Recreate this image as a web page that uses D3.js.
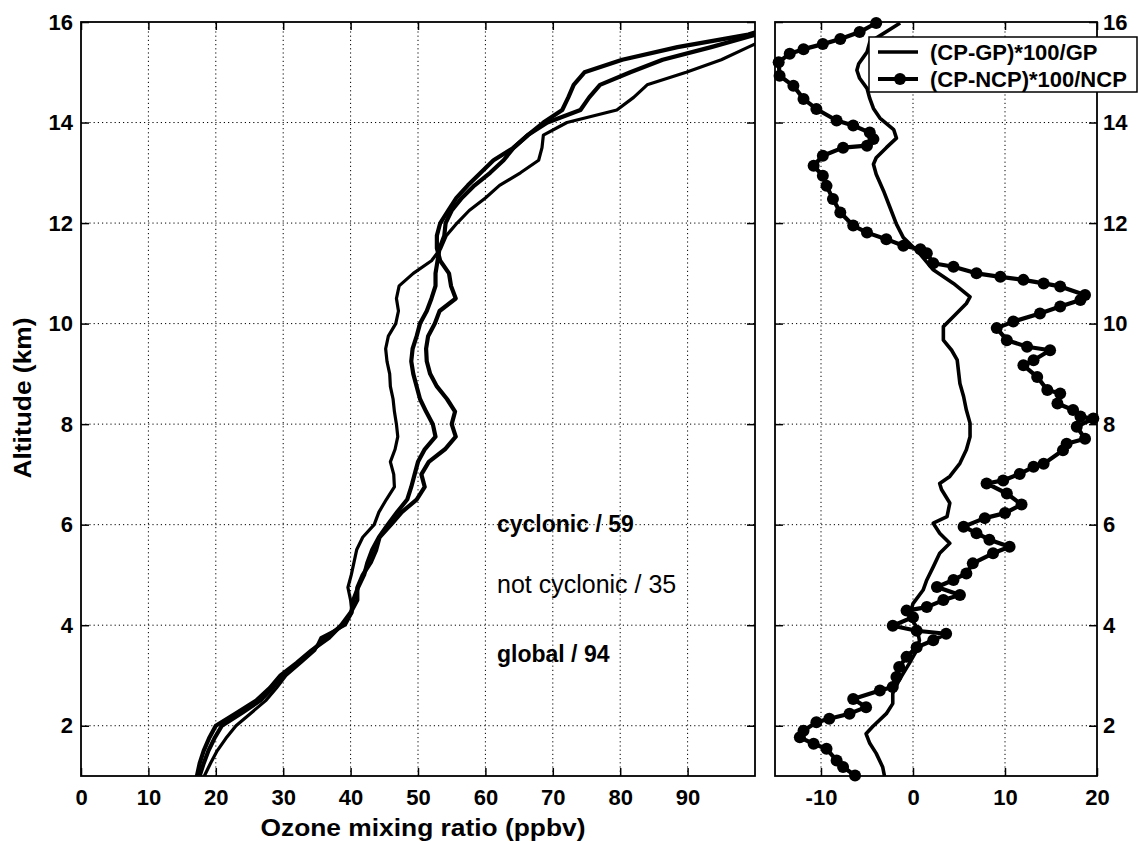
<!DOCTYPE html>
<html><head><meta charset="utf-8">
<script src="https://cdn.jsdelivr.net/npm/d3@7"></script>
<style>
body{margin:0;background:#fff}
text{font-family:"Liberation Sans",Arial,Helvetica,sans-serif;fill:#000}
</style>
</head><body>
<svg id="chart" width="1139" height="841"></svg>
<script>
// ---------- data ----------
const altitude = [1,1.25,1.5,1.75,2,2.25,2.5,2.75,3,3.25,3.5,3.75,4,4.25,4.5,4.75,5,5.25,5.5,5.75,6,6.25,6.5,6.75,7,7.25,7.5,7.75,8,8.25,8.5,8.75,9,9.25,9.5,9.75,10,10.25,10.5,10.75,11,11.25,11.5,11.75,12,12.25,12.5,12.75,13,13.25,13.5,13.75,14,14.25,14.5,14.75,15,15.25,15.5,15.75,16];
const cyclonic = [17.2,17.6,18.2,19.0,20.0,23.0,26.0,28.0,29.6,32.0,34.2,36.8,38.6,40.0,41.0,41.0,41.8,43.0,43.8,44.3,46.0,47.6,49.8,51.0,50.5,51.6,54.0,55.6,55.0,55.5,54.3,52.8,51.8,51.3,51.2,51.5,52.5,53.2,55.6,54.9,54.6,53.3,52.8,52.8,53.3,54.5,55.7,57.4,59.3,61.2,64.2,66.3,68.6,71.4,72.3,73.1,74.7,80.3,88.5,99,105];
const notCyclonic = [18.3,19.2,20.2,21.5,23.0,25.2,27.4,29.0,30.4,32.6,34.7,35.6,39.2,40.2,40.0,39.6,40.1,40.5,40.9,41.8,43.5,44.2,45.3,46.5,46.4,45.9,46.6,47.0,46.8,46.5,46.3,45.9,45.8,45.4,45.2,45.6,46.7,47.1,46.8,47.2,49.3,52.0,53.4,54.2,55.8,57.6,60.0,62.1,65.2,67.9,68.4,68.6,72.1,79.5,82.0,84.0,89.8,95.0,99.0,103,107];
const globalProfile = [17.6,18.2,18.9,19.8,20.9,23.8,26.6,28.4,29.9,32.2,34.4,36.3,38.8,40.1,40.4,41.1,42.0,42.5,43.2,44.2,45.5,46.9,48.4,49.0,49.5,50.0,51.0,52.6,52.2,51.2,50.3,49.8,49.3,49.0,49.2,49.8,50.3,51.3,52.0,52.6,52.6,52.9,53.2,53.9,54.1,55.0,56.5,58.4,60.7,62.7,64.2,66.3,69.2,74.1,75.4,77.0,81.5,86.3,93.5,100.2,106];

const altCpGp = [1.0,1.18,1.45,1.65,1.84,1.98,2.24,2.44,2.64,2.91,3.24,3.5,3.7,3.97,4.17,4.43,4.7,4.9,5.16,5.43,5.63,5.83,6.03,6.16,6.43,6.7,6.82,6.96,7.22,7.49,7.75,8.02,8.28,8.55,8.81,9.28,9.47,9.67,9.94,10.14,10.4,10.53,10.8,11.07,11.42,11.71,11.98,12.31,12.64,12.97,13.17,13.3,13.5,13.69,13.86,14.09,14.28,14.48,14.68,14.88,15.04,15.17,15.4,15.6,15.98];
const cpGp = [-3.1,-3.3,-4.0,-4.7,-5.1,-4.4,-2.9,-2.2,-2.2,-1.5,-0.4,0.4,0.7,0.4,-0.4,0.0,1.1,1.5,2.2,2.9,4.0,2.9,2.2,3.7,4.0,3.1,2.9,4.0,5.1,5.8,6.2,6.2,5.8,5.5,5.1,4.8,4.2,3.3,3.3,4.4,5.8,6.2,4.4,2.2,0.6,-1.05,-1.8,-2.5,-3.2,-4.0,-4.3,-4.0,-2.9,-1.8,-2.1,-3.6,-4.3,-4.7,-5.0,-5.8,-6.1,-5.9,-5.0,-4.7,-1.4];

const altCpNcp = [1.01,1.18,1.31,1.54,1.64,1.77,1.9,2.07,2.14,2.24,2.37,2.53,2.7,2.77,2.97,3.17,3.37,3.56,3.7,3.83,3.89,3.99,4.16,4.29,4.36,4.5,4.6,4.76,4.9,5.03,5.23,5.43,5.56,5.7,5.83,5.96,6.13,6.23,6.4,6.62,6.82,6.88,7.01,7.15,7.21,7.48,7.61,7.71,7.95,8.11,8.15,8.28,8.41,8.61,8.68,8.94,9.17,9.27,9.47,9.54,9.67,9.91,10.04,10.2,10.34,10.47,10.57,10.74,10.8,10.87,10.93,11.0,11.13,11.2,11.4,11.48,11.55,11.68,11.81,11.95,12.21,12.48,12.74,12.94,13.14,13.34,13.5,13.54,13.67,13.8,13.94,14.04,14.27,14.47,14.73,14.93,15.2,15.37,15.46,15.56,15.66,15.8,15.98];
const cpNcp = [-6.3,-7.6,-8.3,-9.4,-10.8,-12.3,-11.9,-10.5,-9.1,-6.9,-5.1,-6.5,-3.6,-2.2,-1.8,-1.5,-0.7,0.4,2.2,3.6,0.4,-2.2,0.0,-0.7,1.5,3.3,5.1,2.6,4.4,5.8,6.5,8.7,10.5,8.3,6.9,5.5,7.8,10.0,11.8,10.2,8.0,9.8,11.6,13.1,14.2,16.3,16.7,18.7,17.8,19.6,18.2,17.4,15.7,16.0,14.6,13.5,12.0,13.1,14.9,12.4,10.2,9.1,10.9,13.8,16.0,18.2,18.7,16.0,14.2,12.0,9.5,6.9,4.4,2.2,1.5,0.8,-1.05,-2.9,-5.0,-6.5,-7.9,-8.7,-9.4,-9.8,-10.8,-9.8,-7.6,-5.0,-4.3,-4.7,-6.5,-8.3,-10.5,-11.9,-13.0,-14.5,-14.6,-13.4,-11.9,-9.8,-7.9,-5.8,-4.0];

const ozoneTicks = [0,10,20,30,40,50,60,70,80,90];
const altTicks = [2,4,6,8,10,12,14,16];
const diffTicks = [-10,0,10,20];
const annotations = ["cyclonic / 59","not cyclonic / 35","global / 94"];
const legendLabels = ["(CP-GP)*100/GP","(CP-NCP)*100/NCP"];

// ---------- scales ----------
const svg = d3.select("#chart");
const xL = d3.scaleLinear([0,100],[81,755]);
const xR = d3.scaleLinear([-15,20],[775,1097]);
const y = d3.scaleLinear([1,16],[776,22]);

function styleAxis(g, showText){
  g.select(".domain").remove();
  g.selectAll(".tick line").attr("stroke","#000").attr("stroke-width",1.5);
  g.selectAll(".tick text").attr("font-size","22px").attr("font-weight","bold")
    .attr("font-family","Liberation Sans, Arial, sans-serif").attr("fill","#000");
  if(!showText) g.selectAll(".tick text").remove();
}

function panel(x, gridX){
  const [x0,x1] = x.range();
  const [yb,yt] = y.range();
  const grid = svg.append("g").attr("stroke","#000").attr("stroke-width",1).attr("stroke-dasharray","1.2,3");
  grid.selectAll(".gx").data(gridX).join("line")
    .attr("x1",d=>x(d)).attr("x2",d=>x(d)).attr("y1",yb).attr("y2",yt);
  grid.selectAll(".gy").data(altTicks.filter(d=>d<16)).join("line")
    .attr("x1",x0).attr("x2",x1).attr("y1",d=>y(d)).attr("y2",d=>y(d));
}

function frame(x, xTicks, yLabelsLeft){
  const [x0,x1] = x.range();
  const [yb,yt] = y.range();
  const fmt = d=>String(d);
  svg.append("g").attr("transform",`translate(0,${yb})`)
    .call(d3.axisBottom(x).tickValues(xTicks).tickSizeInner(-8).tickSizeOuter(0).tickPadding(13).tickFormat(fmt))
    .call(g=>styleAxis(g,true));
  svg.append("g").attr("transform",`translate(0,${yt})`)
    .call(d3.axisTop(x).tickValues(xTicks).tickSizeInner(-8).tickSizeOuter(0).tickFormat(fmt))
    .call(g=>styleAxis(g,false));
  svg.append("g").attr("transform",`translate(${x0},0)`)
    .call(d3.axisLeft(y).tickValues(altTicks).tickSizeInner(-8).tickSizeOuter(0).tickPadding(8).tickFormat(fmt))
    .call(g=>styleAxis(g,yLabelsLeft));
  svg.append("g").attr("transform",`translate(${x1},0)`)
    .call(d3.axisRight(y).tickValues(altTicks).tickSizeInner(-8).tickSizeOuter(0).tickPadding(6).tickFormat(fmt))
    .call(g=>styleAxis(g,!yLabelsLeft));
  svg.append("rect").attr("x",x0).attr("y",yt).attr("width",x1-x0).attr("height",yb-yt)
    .attr("fill","none").attr("stroke","#000").attr("stroke-width",1.8);
}

// ---------- left panel ----------
panel(xL, ozoneTicks.filter(d=>d>0));
svg.append("clipPath").attr("id","clipL").append("rect")
  .attr("x",81).attr("y",22).attr("width",674).attr("height",754);
const lineL = d3.line().x(d=>xL(d[1])).y(d=>y(d[0]));
const profiles = [
  {vals:notCyclonic, w:3.2},
  {vals:globalProfile, w:4.2},
  {vals:cyclonic, w:4.2}
];
const gL = svg.append("g").attr("clip-path","url(#clipL)");
profiles.forEach(p=>{
  gL.append("path").datum(altitude.map((a,i)=>[a,p.vals[i]]))
    .attr("d",lineL).attr("fill","none").attr("stroke","#000")
    .attr("stroke-width",p.w).attr("stroke-linejoin","round").attr("stroke-linecap","round");
});
frame(xL, ozoneTicks, true);

// annotations
const annY = [532, 593, 662];
const annStyle = [{w:"bold",s:23},{w:"normal",s:25},{w:"bold",s:23}];
annotations.forEach((t,i)=>{
  svg.append("text").attr("x",497).attr("y",annY[i]).text(t)
    .attr("font-size",annStyle[i].s).attr("font-weight",annStyle[i].w);
});

// axis labels
svg.append("text").attr("x",423).attr("y",836).attr("text-anchor","middle")
  .attr("font-size",24).attr("font-weight","bold")
  .attr("textLength",325).attr("lengthAdjust","spacingAndGlyphs")
  .text("Ozone mixing ratio (ppbv)");
svg.append("text").attr("transform","translate(31,398) rotate(-90)").attr("text-anchor","middle")
  .attr("font-size",24).attr("font-weight","bold")
  .attr("textLength",161).attr("lengthAdjust","spacingAndGlyphs")
  .text("Altitude (km)");

// ---------- right panel ----------
panel(xR, diffTicks.filter(d=>d>-15 && d<20));
const lineR = d3.line().x(d=>xR(d[1])).y(d=>y(d[0]));
const gpData = altCpGp.map((a,i)=>[a,cpGp[i]]);
const ncpData = altCpNcp.map((a,i)=>[a,cpNcp[i]]);
svg.append("path").datum(gpData).attr("d",lineR).attr("fill","none").attr("stroke","#000")
  .attr("stroke-width",3.6).attr("stroke-linejoin","round");
svg.append("path").datum(ncpData).attr("d",lineR).attr("fill","none").attr("stroke","#000")
  .attr("stroke-width",4.2).attr("stroke-linejoin","round");
svg.append("g").selectAll("circle").data(ncpData).join("circle")
  .attr("cx",d=>xR(d[1])).attr("cy",d=>y(d[0])).attr("r",6).attr("fill","#000");
frame(xR, diffTicks, false);

// legend
const leg = svg.append("g");
leg.append("rect").attr("x",869).attr("y",37).attr("width",268).attr("height",55)
  .attr("fill","#fff").attr("stroke","#000").attr("stroke-width",1.5);
const legY = [52,79];
legendLabels.forEach((t,i)=>{
  leg.append("line").attr("x1",878).attr("x2",918).attr("y1",legY[i]).attr("y2",legY[i])
    .attr("stroke","#000").attr("stroke-width",i===0?3.6:4.2);
  if(i===1) leg.append("circle").attr("cx",900).attr("cy",legY[i]).attr("r",6).attr("fill","#000");
  leg.append("text").attr("x",930).attr("y",legY[i]+8).text(t)
    .attr("font-size",22).attr("font-weight","bold");
});
</script>
</body></html>
